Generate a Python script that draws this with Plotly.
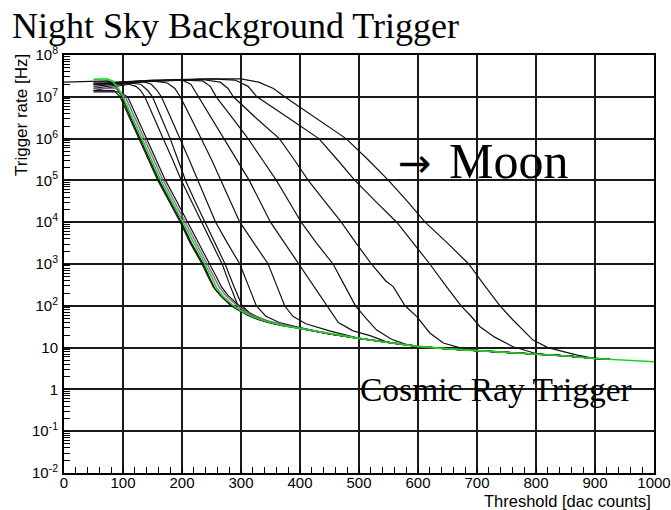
import plotly.graph_objects as go

# ---------------- data ----------------
x_tick_vals = [0, 100, 200, 300, 400, 500, 600, 700, 800, 900, 1000]
y_tick_vals = [1e-2, 1e-1, 1, 10, 1e2, 1e3, 1e4, 1e5, 1e6, 1e7, 1e8]
y_tick_text = ["10<sup>-2</sup>", "10<sup>-1</sup>", "1", "10", "10<sup>2</sup>",
               "10<sup>3</sup>", "10<sup>4</sup>", "10<sup>5</sup>", "10<sup>6</sup>",
               "10<sup>7</sup>", "10<sup>8</sup>"]

# cosmic-ray plateau (log10 of rate) shared by all curves at high threshold
cosmic_x = [300, 320, 345, 371, 400, 450, 500, 550, 600, 650, 700, 750, 800, 850, 900, 925, 950, 1000]
cosmic_log = [1.88, 1.74, 1.62, 1.53, 1.46, 1.33, 1.22, 1.12, 1.03, 0.97, 0.93, 0.89, 0.85, 0.80, 0.74, 0.72, 0.70, 0.66]

# green (dark / cosmic) curve head
green_x = [50, 72, 82, 92, 100, 116, 132, 148, 164, 183, 202, 220, 240, 250, 259, 270, 285]
green_log = [7.42, 7.43, 7.38, 7.2, 7.0, 6.5, 6.0, 5.5, 5.0, 4.5, 4.0, 3.5, 3.0, 2.7, 2.42, 2.22, 2.03]

# bundle of curves around the green one
b1_x = [0, 50, 75, 85, 93, 98, 113, 129, 145, 161, 180, 199, 216, 236, 246, 256, 268, 283, 300, 320, 345, 371]
b1_log = [7.35, 7.38, 7.38, 7.3, 7.1, 7.0, 6.5, 6.0, 5.5, 5.0, 4.5, 4.0, 3.5, 3.0, 2.7, 2.4, 2.2, 2.0, 1.86, 1.72, 1.6, 1.52]
b2_x = [50, 85, 95, 111, 127, 143, 159, 178, 197, 214, 234, 244, 253, 265, 280, 298, 320, 345, 371]
b2_log = [7.15, 7.15, 7.0, 6.5, 6.0, 5.5, 5.0, 4.5, 4.0, 3.5, 3.0, 2.7, 2.45, 2.25, 2.06, 1.9, 1.75, 1.63, 1.54]
b3_x = [50, 88, 96, 104, 120, 136, 152, 168, 187, 206, 224, 244, 254, 263, 274, 289, 304, 322, 345, 371]
b3_log = [7.2, 7.2, 7.1, 7.0, 6.5, 6.0, 5.5, 5.0, 4.5, 4.0, 3.5, 3.0, 2.7, 2.45, 2.25, 2.06, 1.9, 1.76, 1.64, 1.55]
b4_x = [50, 92, 102, 108, 124, 140, 156, 172, 191, 210, 228, 248, 258, 267, 278, 292, 306, 324, 345, 371]
b4_log = [7.12, 7.12, 7.05, 7.0, 6.5, 6.0, 5.5, 5.0, 4.5, 4.0, 3.5, 3.0, 2.7, 2.45, 2.25, 2.06, 1.9, 1.76, 1.63, 1.54]

# night-sky-background curves (increasing NSB level)
nsb_I_x = [50, 70, 90, 110, 122, 130, 137, 152, 168, 184, 199, 216, 233, 250, 268, 281, 295, 310, 330, 360]
nsb_I_log = [7.15, 7.2, 7.25, 7.3, 7.25, 7.15, 7.0, 6.5, 6.0, 5.5, 5.0, 4.5, 4.0, 3.5, 3.0, 2.5, 2.0, 1.78, 1.67, 1.56]
nsb_H_x = [50, 80, 110, 130, 142, 150, 165, 180, 193, 206, 222, 239, 256, 273, 287, 302, 318, 340, 370]
nsb_H_log = [7.3, 7.3, 7.33, 7.3, 7.15, 7.0, 6.5, 6.0, 5.5, 5.0, 4.5, 4.0, 3.5, 3.0, 2.5, 2.0, 1.78, 1.65, 1.54]
nsb_G_x = [50, 90, 130, 148, 158, 165, 181, 197, 212, 227, 242, 257, 277, 298, 312, 326, 342, 365, 400]
nsb_G_log = [7.35, 7.35, 7.38, 7.3, 7.15, 7.0, 6.5, 6.0, 5.5, 5.0, 4.5, 4.0, 3.5, 3.0, 2.5, 2.0, 1.75, 1.6, 1.48]
nsb_F_x = [50, 100, 150, 175, 188, 197, 215, 233, 250, 266, 282, 298, 322, 346, 360, 374, 388, 410, 450, 490]
nsb_F_log = [7.3, 7.35, 7.38, 7.33, 7.2, 7.0, 6.5, 6.0, 5.5, 5.0, 4.5, 4.0, 3.5, 3.0, 2.5, 2.0, 1.75, 1.57, 1.4, 1.26]
nsb_E_x = [50, 100, 150, 200, 215, 228, 250, 272, 293, 314, 332, 350, 374, 398, 421, 445, 465, 490, 520]
nsb_E_log = [7.2, 7.3, 7.38, 7.4, 7.3, 7.0, 6.5, 6.0, 5.5, 5.0, 4.5, 4.0, 3.5, 3.0, 2.5, 2.0, 1.6, 1.4, 1.28]
nsb_D_x = [50, 120, 200, 235, 248, 258, 285, 312, 336, 360, 381, 402, 428, 456, 475, 494, 512, 530, 555, 581]
nsb_D_log = [7.25, 7.35, 7.4, 7.38, 7.25, 7.0, 6.5, 6.0, 5.5, 5.0, 4.5, 4.0, 3.5, 3.0, 2.5, 2.0, 1.7, 1.42, 1.2, 1.07]
nsb_C_x = [50, 150, 230, 265, 278, 287, 325, 365, 390, 414, 442, 470, 495, 521, 545, 558, 578, 598, 620, 643, 670]
nsb_C_log = [7.3, 7.38, 7.42, 7.35, 7.2, 7.0, 6.5, 6.0, 5.5, 5.0, 4.5, 4.0, 3.5, 3.0, 2.6, 2.46, 2.0, 1.74, 1.35, 1.11, 1.0]
nsb_B_x = [50, 150, 250, 290, 312, 327, 380, 432, 463, 493, 528, 564, 592, 620, 646, 673, 690, 705, 730, 761, 790]
nsb_B_log = [7.3, 7.38, 7.43, 7.4, 7.25, 7.0, 6.5, 6.0, 5.5, 5.0, 4.5, 4.0, 3.5, 3.0, 2.5, 2.0, 1.75, 1.5, 1.25, 1.02, 0.9]
nsb_A_x = [50, 150, 250, 300, 330, 355, 374, 425, 478, 515, 550, 582, 612, 650, 686, 712, 739, 761, 795, 820, 841, 870]
nsb_A_log = [7.3, 7.4, 7.43, 7.43, 7.35, 7.2, 7.0, 6.5, 6.0, 5.5, 5.0, 4.5, 4.0, 3.5, 3.0, 2.5, 2.0, 1.66, 1.18, 1.0, 0.92, 0.82]

CURVE_END = 925


def with_tail(hx, hl, end):
    xs, ls = list(hx), list(hl)
    for cx, cl in zip(cosmic_x, cosmic_log):
        if cx > hx[-1] + 5 and cx <= end:
            xs.append(cx)
            ls.append(cl)
    return xs, [10 ** v for v in ls]


fig = go.Figure()

black_curves = [(nsb_A_x, nsb_A_log), (nsb_B_x, nsb_B_log), (nsb_C_x, nsb_C_log),
                (nsb_D_x, nsb_D_log), (nsb_E_x, nsb_E_log), (nsb_F_x, nsb_F_log),
                (nsb_G_x, nsb_G_log), (nsb_H_x, nsb_H_log), (nsb_I_x, nsb_I_log),
                (b1_x, b1_log), (b2_x, b2_log), (b4_x, b4_log)]
for hx, hl in black_curves:
    xs, ys = with_tail(hx, hl, CURVE_END)
    fig.add_trace(go.Scatter(x=xs, y=ys, mode="lines",
                             line=dict(color="#111111", width=1.2), showlegend=False,
                             hoverinfo="skip"))

xs, ys = with_tail(b3_x, b3_log, CURVE_END)
fig.add_trace(go.Scatter(x=xs, y=ys, mode="lines",
                         line=dict(color="rgba(140,90,160,0.85)", width=1.6),
                         showlegend=False, hoverinfo="skip"))

xs, ys = with_tail(green_x, green_log, 1000)
fig.add_trace(go.Scatter(x=xs, y=ys, mode="lines",
                         line=dict(color="#1ed21e", width=1.6), showlegend=False,
                         hoverinfo="skip"))

minor_y = [k * 10.0 ** e for e in range(-2, 8) for k in range(2, 10)]

axis_font = dict(family="Liberation Sans, Arial, sans-serif", size=15, color="black")
serif = "Liberation Serif, Times New Roman, serif"

fig.update_layout(
    width=671, height=510, autosize=False,
    margin=dict(l=64, r=17, t=55, b=37, autoexpand=False),
    paper_bgcolor="white", plot_bgcolor="white",
    title=dict(text="Night Sky Background Trigger", x=12 / 671, xanchor="left",
               y=1 - 25 / 510, yanchor="middle",
               font=dict(family=serif, size=36, color="black")),
    xaxis=dict(range=[0, 1000], tickmode="array", tickvals=x_tick_vals, automargin=False,
               showgrid=True, gridcolor="#1a1a1a", gridwidth=1.7,
               showline=True, linecolor="black", linewidth=2, mirror=True,
               ticks="inside", ticklen=6, tickcolor="black", zeroline=False,
               tickfont=axis_font, ticklabelstandoff=-5,
               minor=dict(ticks="inside", ticklen=6, tickwidth=1.2, tickcolor="black",
                          dtick=20, tick0=0, showgrid=False)),
    yaxis=dict(type="log", range=[-2, 8], tickmode="array", tickvals=y_tick_vals,
               ticktext=y_tick_text, automargin=False,
               showgrid=True, gridcolor="#1a1a1a", gridwidth=1.7,
               showline=True, linecolor="black", linewidth=2, mirror=True,
               ticks="inside", ticklen=6, tickcolor="black", zeroline=False,
               tickfont=axis_font, ticklabelstandoff=1,
               minor=dict(ticks="inside", ticklen=6, tickwidth=1.2, tickcolor="black",
                          tickvals=minor_y, showgrid=False)),
    annotations=[
        dict(text="Trigger rate [Hz]", xref="paper", yref="paper",
             x=(22 - 64) / 590, y=(473 - 115) / 418, xanchor="center", yanchor="middle",
             textangle=-90, showarrow=False,
             font=dict(family="Liberation Sans, Arial, sans-serif", size=17, color="black")),
        dict(text="Threshold [dac counts]", xref="paper", yref="paper",
             x=(653 - 64) / 590, y=(473 - 501) / 418, xanchor="right", yanchor="middle",
             showarrow=False,
             font=dict(family="Liberation Sans, Arial, sans-serif", size=16.5, color="black")),
        dict(text="→", xref="paper", yref="paper",
             x=(415 - 64) / 590, y=(473 - 163) / 418, xanchor="center", yanchor="middle",
             showarrow=False,
             font=dict(family="DejaVu Sans, sans-serif", size=40, color="black")),
        dict(text="Moon", xref="paper", yref="paper",
             x=(447 - 64) / 590, y=(473 - 161) / 418, xanchor="left", yanchor="middle",
             showarrow=False,
             font=dict(family=serif, size=50, color="black")),
        dict(text="Cosmic Ray Trigger", xref="paper", yref="paper",
             x=(358 - 64) / 590, y=(473 - 389) / 418, xanchor="left", yanchor="middle",
             showarrow=False,
             font=dict(family=serif, size=33.5, color="black")),
    ],
)

fig.write_html("out.html", config={"displayModeBar": False},
               post_script="document.body.style.margin='0';document.body.style.padding='0';")
